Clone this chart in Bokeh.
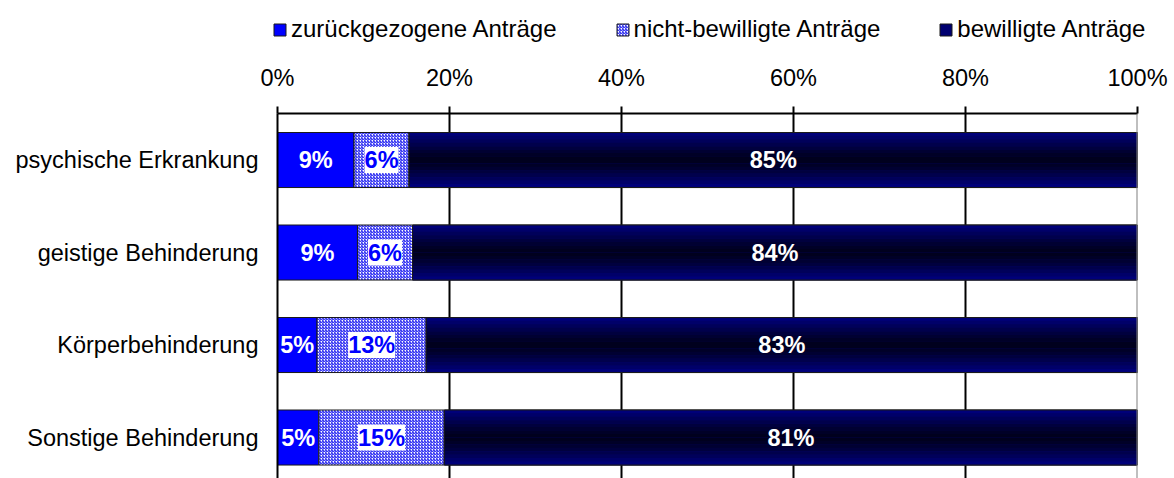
from bokeh.plotting import figure
from bokeh.layouts import column
from bokeh.models import (ColumnDataSource, Range1d, FixedTicker, LabelSet,
                          Legend, LegendItem, Span)
from bokeh.core.properties import value
from bokeh.embed import file_html
from bokeh.resources import INLINE

# ---- data ----
categories = ["psychische Erkrankung", "geistige Behinderung",
              "Körperbehinderung", "Sonstige Behinderung"]
zurueck = [8.9, 9.3, 4.6, 4.8]
nicht = [6.4, 6.4, 12.7, 14.6]
bewilligt = [84.7, 84.3, 82.7, 80.6]
series_names = ["zurückgezogene Anträge", "nicht-bewilligte Anträge", "bewilligte Anträge"]
x_ticks = [0, 20, 40, 60, 80, 100]
x_tick_labels = ["0%", "20%", "40%", "60%", "80%", "100%"]

FONT = "Liberation Sans"
FS = "23.5px"
H = 0.595
ys = list(range(len(categories)))

Z_STYLE = dict(fill_color="#0000ff", line_color="#1a1a1a", line_width=1)
N_STYLE = dict(fill_color="white", hatch_pattern="/", hatch_color="#0000ee",
               hatch_scale=3, hatch_weight=1, line_color="#1a1a1a", line_width=1)
B_STYLE = dict(fill_color="#000070", line_color="#1a1a1a", line_width=1)

z_left = [0.0] * len(ys)
z_right = [a for a in zurueck]
n_left = z_right
n_right = [a + b for a, b in zip(zurueck, nicht)]
b_left = n_right
b_right = [a + b + c for a, b, c in zip(zurueck, nicht, bewilligt)]

src = ColumnDataSource(dict(
    y=ys, z_left=z_left, z_right=z_right, n_left=n_left, n_right=n_right,
    b_left=b_left, b_right=b_right,
    z_mid=[(a + b) / 2 for a, b in zip(z_left, z_right)],
    n_mid=[(a + b) / 2 for a, b in zip(n_left, n_right)],
    b_mid=[(a + b) / 2 for a, b in zip(b_left, b_right)],
    z_lab=[f"{round(v)}%" for v in zurueck],
    n_lab=[f"{round(v)}%" for v in nicht],
    b_lab=[f"{round(v)}%" for v in bewilligt],
))

# ---------- legend strip (separate figure on top) ----------
LEG_H = 56
lf = figure(width=1174, height=LEG_H, x_range=Range1d(0, 1174), y_range=Range1d(0, LEG_H),
            output_backend="svg", toolbar_location=None,
            min_border_left=0, min_border_right=0, min_border_top=0, min_border_bottom=0)
lf.frame_align = False
lf.axis.visible = False
lf.grid.visible = False
lf.outline_line_color = None
# legend keys only: the single point lies outside the visible range
dummy = ColumnDataSource(dict(y=[-1000], left=[-1000], right=[-999]))
lz = lf.hbar(y="y", left="left", right="right", height=1, source=dummy, **Z_STYLE)
ln = lf.hbar(y="y", left="left", right="right", height=1, source=dummy, **N_STYLE)
lb = lf.hbar(y="y", left="left", right="right", height=1, source=dummy, **B_STYLE)
legend = Legend(items=[LegendItem(label=series_names[0], renderers=[lz]),
                       LegendItem(label=series_names[1], renderers=[ln]),
                       LegendItem(label=series_names[2], renderers=[lb])],
                orientation="horizontal", location=(272, 13),
                glyph_width=15, glyph_height=15, label_standoff=4, spacing=58,
                padding=0, margin=0, border_line_color=None,
                background_fill_alpha=0,
                label_text_font=FONT, label_text_font_size="24px",
                label_text_color="black")
lf.add_layout(legend, "center")

# ---------- main chart ----------
p = figure(width=1174, height=478 - LEG_H, x_range=Range1d(0, 100),
           y_range=Range1d(3.443, -0.503), x_axis_location="above",
           output_backend="svg", toolbar_location=None,
           min_border_left=277, min_border_right=37, min_border_top=113 - LEG_H,
           min_border_bottom=0)
p.frame_align = False
p.outline_line_color = None
p.background_fill_color = "white"
p.ygrid.visible = False
p.xgrid.ticker = FixedTicker(ticks=[20, 40, 60, 80])
p.xgrid.grid_line_color = "black"
p.xgrid.grid_line_width = 2

p.add_layout(Span(location=100, dimension="height", line_color="#808080", line_width=2))

r_z = p.hbar(y="y", left="z_left", right="z_right", height=H, source=src, **Z_STYLE)
r_n = p.hbar(y="y", left="n_left", right="n_right", height=H, source=src, **N_STYLE)
r_b = p.hbar(y="y", left="b_left", right="b_right", height=H, source=src, **B_STYLE)

# gradient strips for the bewilligt bars
N = 16
sy, sl, sr, sc = [], [], [], []
for i, y in enumerate(ys):
    for k in range(N):
        t = (k + 0.5) / N
        d = abs(t - 0.5) * 2
        b = int(28 + (130 - 28) * d ** 1.3)
        sy.append(y - H / 2 + (k + 0.5) * H / N)
        sl.append(b_left[i])
        sr.append(b_right[i])
        sc.append("#0000%02x" % b)
strip_src = ColumnDataSource(dict(y=sy, left=sl, right=sr, color=sc))
p.hbar(y="y", left="left", right="right", height=H / N * 1.05, source=strip_src,
       fill_color="color", line_color=None)
p.hbar(y="y", left="b_left", right="b_right", height=H, source=src,
       fill_alpha=0, line_color="#1a1a1a", line_width=1)

# labels
p.add_layout(LabelSet(x="z_mid", y="y", text="z_lab", source=src, text_align="center",
                      text_baseline="middle", text_color="white", text_font=value(FONT),
                      text_font_size=value(FS), text_font_style="bold"))
p.add_layout(LabelSet(x="n_mid", y="y", text="n_lab", source=src, text_align="center",
                      text_baseline="middle", text_color="#0000ff", text_font=value(FONT),
                      text_font_size=value(FS), text_font_style="bold",
                      background_fill_color="white"))
p.add_layout(LabelSet(x="b_mid", y="y", text="b_lab", source=src, text_align="center",
                      text_baseline="middle", text_color="white", text_font=value(FONT),
                      text_font_size=value(FS), text_font_style="bold"))

# axes
xa = p.xaxis[0]
xa.ticker = FixedTicker(ticks=x_ticks)
xa.major_label_overrides = dict(zip(x_ticks, x_tick_labels))
xa.axis_line_width = 2
xa.axis_line_color = "black"
xa.major_tick_line_width = 2
xa.major_tick_out = 7
xa.major_tick_in = 0
xa.minor_tick_line_color = None
xa.major_label_standoff = 16
xa.major_label_text_font = FONT
xa.major_label_text_font_size = FS
xa.major_label_text_color = "black"

ya = p.yaxis[0]
ya.ticker = FixedTicker(ticks=ys)
ya.major_label_overrides = dict(zip(ys, categories))
ya.axis_line_width = 2
ya.axis_line_color = "black"
ya.major_tick_out = 0
ya.major_tick_in = 0
ya.minor_tick_line_color = None
ya.major_label_standoff = 19
ya.major_label_text_font = FONT
ya.major_label_text_font_size = FS
ya.major_label_text_color = "black"

layout = column(lf, p, spacing=0)
open("out.html", "w").write(file_html(layout, INLINE))
